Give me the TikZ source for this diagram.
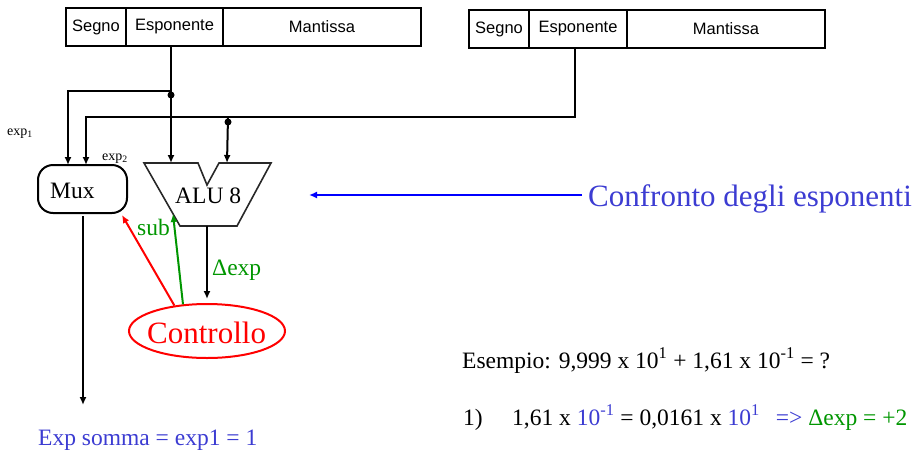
\documentclass[tikz,border=0pt]{standalone}
\usepackage{fontspec}
\setmainfont{Liberation Serif}
\newfontfamily\regfont{Liberation Sans}
\usetikzlibrary{arrows.meta,shapes.geometric}
\definecolor{tblue}{RGB}{60,60,210}
\definecolor{ablue}{RGB}{0,0,255}
\definecolor{tgreen}{RGB}{0,150,0}
\definecolor{tred}{RGB}{255,0,0}
\definecolor{alugray}{RGB}{40,40,40}
\begin{document}
\begin{tikzpicture}[x=1pt,y=-1pt,
  cell/.style={draw, line width=1.9pt, minimum height=38pt, inner sep=0pt,
    font=\regfont\fontsize{16.5}{19}\selectfont},
  wire/.style={line width=2pt, -{Latex[length=8pt,width=7pt]}},
  dot/.style={circle, fill, inner sep=0pt, minimum size=7pt},
  txt/.style={inner sep=0pt, anchor=base west},
  big/.style={font=\fontsize{23.5}{27}\selectfont},
  huge/.style={font=\fontsize{31}{36}\selectfont},
  small/.style={font=\fontsize{14}{16}\selectfont}]
\useasboundingbox (0,0) rectangle (924,453);
% registers
\node[cell, minimum width=60pt]  (s1) at (96,27) {Segno};
\node[cell, minimum width=97pt]  (e1) at (174.5,27) {Esponente};
\node[cell, minimum width=198pt] (m1) at (322,27) {Mantissa};
\node[cell, minimum width=60pt]  (s2) at (499,29) {Segno};
\node[cell, minimum width=98pt]  (e2) at (578,29) {Esponente};
\node[cell, minimum width=198pt] (m2) at (726,29) {Mantissa};
% mux
\node[draw, line width=2pt, rounded corners=15pt, minimum width=89pt, minimum height=48pt, inner sep=0pt] (mux) at (82.5,189) {};
\node[txt, big] (muxt) at (50,198) {Mux};
% ALU
\coordinate (a1) at (144,163);
\coordinate (a2) at (198,163);
\coordinate (a3) at (207,185);
\coordinate (a4) at (219,163);
\coordinate (a5) at (271,163);
\coordinate (a6) at (237,226);
\coordinate (a7) at (180,226);
\draw[line width=1.6pt, alugray, line join=miter] (a1) -- (a2) -- (a3) -- (a4) -- (a5) -- (a6) -- (a7) -- cycle;
\node[txt, big] (alut) at (175,203) {ALU 8};
\coordinate (aluin1) at (171,163);
\coordinate (aluin2) at (227,163);
\coordinate (aluout) at (207,226);
\coordinate (alusub) at (173,214);
% wiring from registers
\coordinate (e1o) at (171,46);
\coordinate (j1) at (171,91);
\coordinate (c1) at (68,91);
\coordinate (m1in) at (68,165);
\coordinate (e2o) at (575,48);
\coordinate (c2) at (575,117);
\coordinate (c3) at (86,117);
\coordinate (m2in) at (86,165);
\coordinate (j2) at (228,117);
\draw[wire] (e1o) -- (aluin1);
\draw[wire] (j1) -- (c1) -- (m1in);
\draw[wire] (e2o) -- (c2) -- (c3) -- (m2in);
\draw[wire] (j2) -- (aluin2);
\node[dot] (d1) at (171,95) {};
\node[dot] (d2) at (228,122) {};
% labels
\node[txt, small] (x1) at (7,135) {exp\textsubscript{1}};
\node[txt, small] (x2) at (102,160) {exp\textsubscript{2}};
% controllo
\node[draw=tred, ellipse, line width=2pt, minimum width=156pt, minimum height=54pt, inner sep=0pt] (ctrl) at (207,331) {};
\node[txt, huge, text=tred] (ctrlt) at (147,343) {Controllo};
\coordinate (muxcorner) at (122,215);
\draw[wire, tred] (ctrl.142) -- (muxcorner);
\draw[wire, tgreen] (ctrl.132) -- (alusub);
\coordinate (ctrlin) at (207,299);
\draw[wire] (aluout) -- (ctrlin);
\node[txt, big, text=tgreen] (subt) at (137,235) {sub};
\node[txt, big, text=tgreen] (dexp) at (212,275) {Δexp};
% mux output
\coordinate (muxout) at (83,216);
\coordinate (resin) at (83,405);
\draw[wire] (muxout) -- (resin);
\node[txt, big, text=tblue] (res) at (38,445) {Exp somma = exp1 = 1};
% confronto
\node[txt, huge, text=tblue] (conf) at (588,206) {Confronto degli esponenti};
\coordinate (confs) at (582,195);
\coordinate (confe) at (309,195);
\draw[line width=2.4pt, ablue, -{Latex[length=8pt,width=7pt]}] (confs) -- (confe);
% example
\node[txt, big] (es) at (462,368) {Esempio: 9,999 x 10\textsuperscript{1} + 1,61 x 10\textsuperscript{-1} = ?};
\node[txt, big] (passo) at (463,425) {\makebox[49pt][l]{1)}1,61 x \textcolor{tblue}{10\textsuperscript{-1}} = 0,0161 x \textcolor{tblue}{10\textsuperscript{1}}\hspace{16pt}\textcolor{tblue}{=>} \textcolor{tgreen}{Δexp = +2}};
\end{tikzpicture}
\end{document}
